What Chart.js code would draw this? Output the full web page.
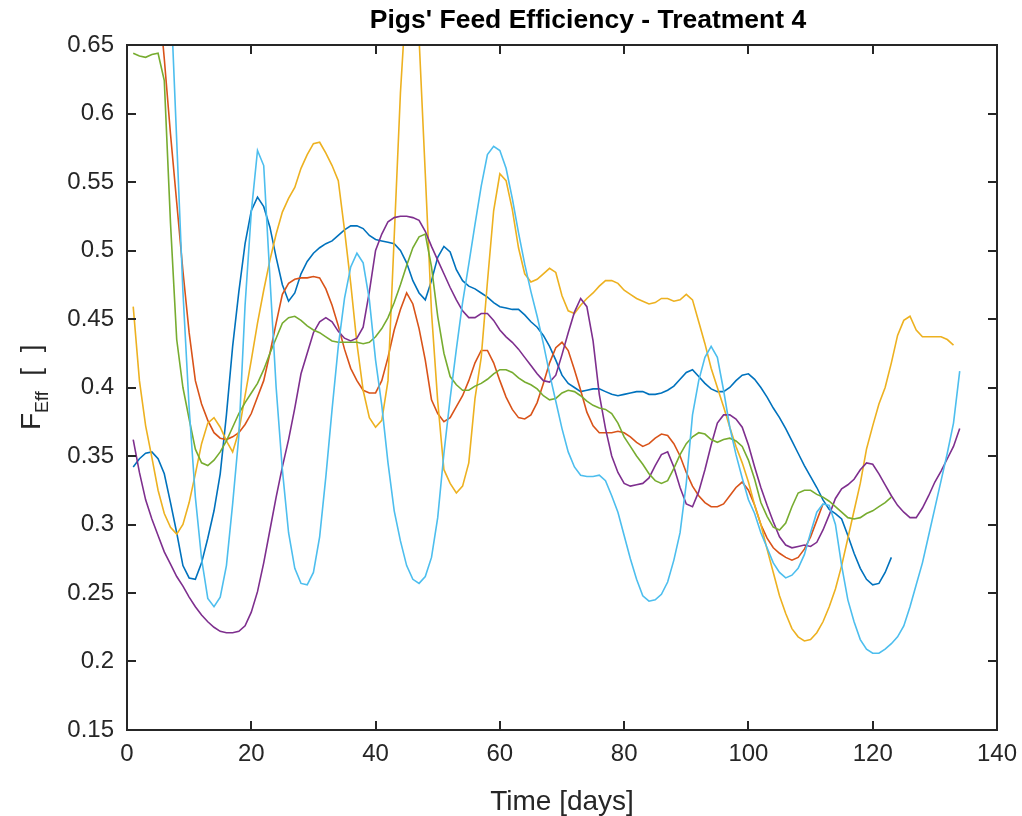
<!DOCTYPE html>
<html>
<head>
<meta charset="utf-8">
<script src="https://cdn.jsdelivr.net/npm/chart.js@4.4.1/dist/chart.umd.min.js"></script>
<style>
  body { margin: 0; background: #fff; }
  canvas { display: block; }
</style>
</head>
<body>
<canvas id="feedChart" width="1022" height="816"></canvas>
<script>
// =========================
// データ
// =========================
const days = [];
for (let d = 1; d <= 134; d++) days.push(d);

const xTicks = [0, 20, 40, 60, 80, 100, 120, 140];
const yTicks = [0.15, 0.2, 0.25, 0.3, 0.35, 0.4, 0.45, 0.5, 0.55, 0.6, 0.65];

const pig1 = [0.342,0.348,0.352,0.353,0.348,0.337,0.316,0.294,0.270,0.261,
  0.260,0.272,0.290,0.310,0.337,0.380,0.430,0.470,0.505,0.529,
  0.539,0.532,0.517,0.495,0.475,0.463,0.469,0.483,0.492,0.498,
  0.502,0.505,0.507,0.511,0.515,0.518,0.518,0.516,0.511,0.508,
  0.507,0.506,0.505,0.500,0.491,0.478,0.469,0.464,0.478,0.495,
  0.503,0.499,0.486,0.478,0.474,0.472,0.469,0.466,0.462,0.459,
  0.458,0.457,0.457,0.453,0.448,0.444,0.438,0.430,0.420,0.409,
  0.403,0.400,0.397,0.398,0.399,0.399,0.397,0.395,0.394,0.395,
  0.396,0.397,0.397,0.395,0.395,0.396,0.398,0.401,0.406,0.411,
  0.413,0.408,0.403,0.399,0.397,0.397,0.400,0.405,0.409,0.410,
  0.406,0.400,0.393,0.385,0.378,0.370,0.361,0.352,0.343,0.335,
  0.327,0.318,0.311,0.308,0.304,0.292,0.279,0.268,0.260,0.256,
  0.257,0.265,0.276];

const pig2 = [0.92,0.86,0.80,0.74,0.69,0.64,0.585,0.535,0.485,0.44,
  0.405,0.388,0.376,0.367,0.363,0.362,0.364,0.367,0.373,0.381,
  0.393,0.405,0.425,0.447,0.468,0.476,0.479,0.480,0.480,0.481,
  0.480,0.472,0.460,0.445,0.428,0.414,0.405,0.398,0.396,0.396,
  0.405,0.422,0.442,0.457,0.469,0.461,0.443,0.420,0.391,0.381,
  0.375,0.378,0.386,0.394,0.405,0.418,0.427,0.427,0.418,0.405,
  0.393,0.384,0.378,0.377,0.380,0.389,0.403,0.418,0.429,0.433,
  0.427,0.413,0.398,0.382,0.372,0.367,0.367,0.367,0.368,0.367,
  0.364,0.360,0.357,0.359,0.363,0.366,0.365,0.359,0.350,0.338,
  0.328,0.321,0.316,0.313,0.313,0.315,0.321,0.327,0.331,0.325,
  0.314,0.300,0.290,0.283,0.279,0.276,0.274,0.276,0.282,0.291,
  0.303,0.315];

const pig3 = [0.459,0.405,0.372,0.349,0.325,0.308,0.298,0.293,0.300,0.316,
  0.337,0.359,0.374,0.378,0.371,0.361,0.353,0.368,0.394,0.420,
  0.447,0.471,0.493,0.512,0.528,0.538,0.546,0.560,0.570,0.578,
  0.579,0.571,0.562,0.551,0.515,0.476,0.432,0.398,0.378,0.371,
  0.376,0.405,0.510,0.615,0.690,0.720,0.655,0.556,0.455,0.390,
  0.340,0.330,0.323,0.328,0.345,0.392,0.422,0.477,0.529,0.556,
  0.551,0.530,0.502,0.483,0.477,0.479,0.483,0.487,0.484,0.467,
  0.456,0.454,0.460,0.465,0.469,0.474,0.478,0.478,0.476,0.471,
  0.468,0.465,0.463,0.461,0.462,0.465,0.465,0.463,0.464,0.468,
  0.464,0.448,0.432,0.414,0.400,0.386,0.371,0.357,0.345,0.331,
  0.314,0.300,0.282,0.265,0.248,0.235,0.224,0.218,0.215,0.216,
  0.221,0.229,0.240,0.253,0.270,0.290,0.310,0.330,0.355,0.372,
  0.388,0.400,0.418,0.438,0.449,0.452,0.442,0.437,0.437,0.437,
  0.437,0.435,0.431];

const pig4 = [0.362,0.338,0.318,0.304,0.292,0.280,0.271,0.262,0.255,0.247,
  0.240,0.234,0.229,0.225,0.222,0.221,0.221,0.222,0.226,0.236,
  0.251,0.272,0.296,0.320,0.342,0.362,0.385,0.410,0.425,0.440,
  0.448,0.451,0.448,0.441,0.436,0.434,0.436,0.444,0.470,0.500,
  0.512,0.521,0.524,0.525,0.525,0.524,0.522,0.514,0.503,0.493,
  0.483,0.473,0.464,0.456,0.451,0.451,0.454,0.454,0.449,0.442,
  0.437,0.433,0.428,0.422,0.416,0.410,0.405,0.404,0.409,0.424,
  0.440,0.455,0.465,0.459,0.434,0.395,0.370,0.350,0.338,0.330,
  0.328,0.329,0.330,0.334,0.343,0.351,0.353,0.342,0.327,0.315,
  0.313,0.324,0.340,0.358,0.374,0.380,0.380,0.377,0.371,0.358,
  0.342,0.327,0.314,0.302,0.291,0.285,0.283,0.284,0.285,0.284,
  0.287,0.296,0.307,0.319,0.326,0.329,0.333,0.340,0.345,0.344,
  0.337,0.329,0.321,0.314,0.309,0.305,0.305,0.312,0.321,0.331,
  0.339,0.348,0.357,0.370];

const pig5 = [0.644,0.642,0.641,0.643,0.644,0.624,0.520,0.435,0.400,0.377,
  0.355,0.345,0.343,0.347,0.353,0.361,0.371,0.381,0.389,0.396,
  0.403,0.413,0.425,0.436,0.447,0.451,0.452,0.449,0.445,0.442,
  0.440,0.437,0.434,0.433,0.433,0.433,0.433,0.432,0.433,0.437,
  0.443,0.451,0.462,0.475,0.489,0.502,0.510,0.512,0.488,0.452,
  0.425,0.408,0.402,0.398,0.398,0.401,0.403,0.406,0.410,0.413,
  0.413,0.411,0.407,0.404,0.402,0.399,0.394,0.391,0.392,0.396,
  0.398,0.397,0.394,0.390,0.387,0.385,0.384,0.381,0.374,0.364,
  0.357,0.350,0.344,0.337,0.332,0.330,0.332,0.341,0.351,0.359,
  0.364,0.367,0.366,0.362,0.360,0.362,0.363,0.361,0.357,0.347,
  0.333,0.316,0.306,0.298,0.296,0.301,0.313,0.323,0.325,0.325,
  0.322,0.320,0.317,0.313,0.309,0.305,0.304,0.305,0.308,0.310,
  0.313,0.316,0.320];

const pig6 = [0.98,0.96,0.93,0.88,0.82,0.76,0.69,0.58,0.47,0.385,
  0.32,0.275,0.246,0.240,0.247,0.270,0.315,0.365,0.460,0.528,
  0.573,0.562,0.480,0.400,0.340,0.294,0.268,0.257,0.256,0.265,
  0.291,0.335,0.384,0.430,0.465,0.488,0.498,0.491,0.464,0.420,
  0.387,0.345,0.310,0.288,0.270,0.260,0.257,0.262,0.276,0.305,
  0.352,0.392,0.428,0.462,0.490,0.519,0.547,0.570,0.576,0.573,
  0.560,0.538,0.513,0.490,0.470,0.452,0.432,0.410,0.390,0.370,
  0.353,0.342,0.336,0.335,0.335,0.336,0.332,0.321,0.309,0.292,
  0.275,0.260,0.248,0.244,0.245,0.249,0.258,0.274,0.294,0.330,
  0.380,0.405,0.422,0.430,0.422,0.398,0.371,0.351,0.334,0.318,
  0.308,0.294,0.283,0.272,0.265,0.261,0.263,0.268,0.278,0.294,
  0.309,0.315,0.314,0.300,0.270,0.245,0.229,0.216,0.209,0.206,
  0.206,0.209,0.213,0.218,0.226,0.240,0.256,0.272,0.292,0.312,
  0.332,0.352,0.374,0.412];

const series = [pig1, pig2, pig3, pig4, pig5, pig6];
const colors = ['#0072BD', '#D95319', '#EDB120', '#7E2F8E', '#77AC30', '#4DBEEE'];

const FONT = '"Liberation Sans", Arial, Helvetica, sans-serif';
const INK = '#262626';

// =============================
// 枠・内向き目盛り・タイトル類を描くプラグイン
// =============================
const matlabFrame = {
  id: 'matlabFrame',
  afterDraw(chart) {
    const { ctx, chartArea: a, scales } = chart;
    const x = scales.x, y = scales.y;
    ctx.save();
    ctx.strokeStyle = INK;
    ctx.lineWidth = 2;
    ctx.strokeRect(a.left, a.top, a.right - a.left, a.bottom - a.top);

    ctx.beginPath();
    xTicks.forEach(v => {
      const px = Math.round(x.getPixelForValue(v));
      ctx.moveTo(px, a.bottom); ctx.lineTo(px, a.bottom - 9);
      ctx.moveTo(px, a.top); ctx.lineTo(px, a.top + 9);
    });
    yTicks.forEach(v => {
      const py = Math.round(y.getPixelForValue(v));
      ctx.moveTo(a.left, py); ctx.lineTo(a.left + 9, py);
      ctx.moveTo(a.right, py); ctx.lineTo(a.right - 9, py);
    });
    ctx.stroke();

    // タイトル
    ctx.fillStyle = '#000';
    ctx.font = 'bold 26.5px ' + FONT;
    ctx.textAlign = 'center';
    ctx.textBaseline = 'alphabetic';
    ctx.fillText("Pigs' Feed Efficiency - Treatment 4", 588, 28);

    // x軸ラベル
    ctx.fillStyle = INK;
    ctx.font = '28px ' + FONT;
    ctx.fillText('Time [days]', (a.left + a.right) / 2, 810);

    // y軸ラベル（下付き文字つき）
    ctx.translate(40, 430);
    ctx.rotate(-Math.PI / 2);
    ctx.textAlign = 'left';
    ctx.font = '28px ' + FONT;
    ctx.fillText('F', 0, 0);
    const wF = ctx.measureText('F').width;
    ctx.font = '18px ' + FONT;
    ctx.fillText('Eff', wF, 8);
    const wE = ctx.measureText('Eff').width;
    ctx.font = '28px ' + FONT;
    ctx.fillText('  [  ]', wF + wE, 0);
    ctx.restore();
  }
};

const datasets = series.map((vals, i) => ({
  data: vals.map((v, k) => ({ x: days[k], y: v })),
  borderColor: colors[i],
  borderWidth: 1.6,
  pointRadius: 0,
  tension: 0,
  fill: false,
  order: series.length - 1 - i
}));

new Chart(document.getElementById('feedChart'), {
  type: 'line',
  data: { datasets: datasets },
  options: {
    responsive: false,
    animation: false,
    layout: { padding: { left: 0, top: 45, right: 25, bottom: 0 } },
    plugins: {
      legend: { display: false },
      title: { display: false },
      tooltip: { enabled: false }
    },
    scales: {
      x: {
        type: 'linear',
        min: 0,
        max: 140,
        grid: { display: false, drawTicks: false },
        border: { display: false },
        afterBuildTicks: s => { s.ticks = xTicks.map(v => ({ value: v })); },
        afterFit: s => { s.height = 86; s.paddingLeft = 0; s.paddingRight = 0; },
        ticks: {
          font: { family: FONT, size: 24 },
          color: INK,
          padding: 10,
          maxRotation: 0,
          autoSkip: false,
          callback: v => String(v)
        }
      },
      y: {
        type: 'linear',
        min: 0.15,
        max: 0.65,
        grid: { display: false, drawTicks: false },
        border: { display: false },
        afterBuildTicks: s => { s.ticks = yTicks.map(v => ({ value: v })); },
        afterFit: s => { s.width = 127; s.paddingTop = 0; s.paddingBottom = 0; },
        ticks: {
          font: { family: FONT, size: 24 },
          color: INK,
          padding: 13,
          autoSkip: false,
          callback: v => String(v)
        }
      }
    }
  },
  plugins: [matlabFrame]
});
</script>
</body>
</html>
